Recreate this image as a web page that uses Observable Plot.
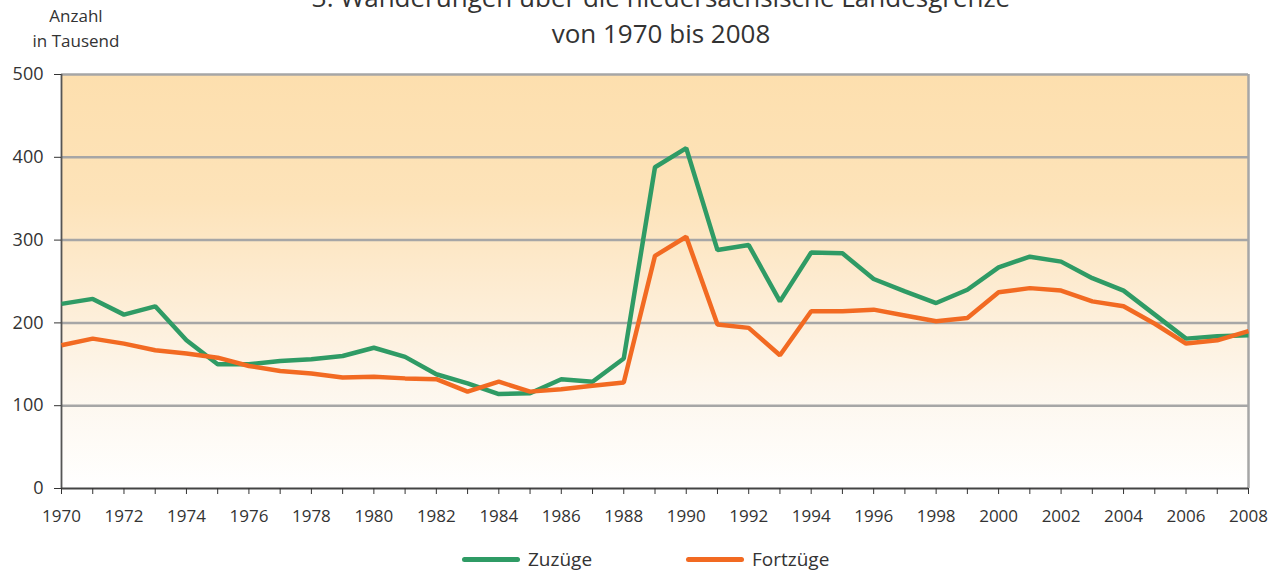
<!DOCTYPE html>
<html>
<head>
<meta charset="utf-8">
<script src="https://cdn.jsdelivr.net/npm/d3@7"></script>
<script src="https://cdn.jsdelivr.net/npm/@observablehq/plot@0.6"></script>
<style>
  html, body { margin: 0; padding: 0; background: #fff; }
  #wrap { position: relative; width: 1283px; height: 574px; overflow: hidden; font-family: "Open Sans", sans-serif; color: #333; }
  .t { position: absolute; white-space: nowrap; }
  #title { left: 0; width: 1322px; text-align: center; top: -21px; font-size: 26px; line-height: 36px; }
  #unit { left: 16px; width: 120px; text-align: center; top: 3px; font-size: 17px; line-height: 25px; }
  .leg { position: absolute; top: 545px; font-size: 19px; line-height: 28px; display: flex; align-items: center; }
  .leg span.sw { display: inline-block; width: 58px; height: 5px; border-radius: 3px; margin-right: 8px; }
  #chart { position: absolute; left: 0; top: 0; }
</style>
</head>
<body>
<div id="wrap">
  <div id="chart"></div>
  <div class="t" id="title">3. Wanderungen über die niedersächsische Landesgrenze<br>von 1970 bis 2008</div>
  <div class="t" id="unit">Anzahl<br>in Tausend</div>
  <div class="leg" style="left:462px"><span class="sw" style="background:#2f9b65"></span>Zuzüge</div>
  <div class="leg" style="left:686px"><span class="sw" style="background:#f26a22"></span>Fortzüge</div>
</div>
<script>
const years = d3.range(1970, 2009);
const zuzuege = [223, 229, 210, 220, 179, 150, 150, 154, 156, 160, 170, 159, 138, 127, 114, 115, 132, 129, 157, 388, 411, 288, 294, 226, 285, 284, 253, 238, 224, 240, 267, 280, 274, 254, 239, 210, 181, 184, 185];
const fortzuege = [173, 181, 175, 167, 163, 158, 148, 142, 139, 134, 135, 133, 132, 117, 129, 117, 120, 124, 128, 281, 304, 198, 194, 161, 214, 214, 216, 209, 202, 206, 237, 242, 239, 226, 220, 199, 175, 179, 190];
const seriesNames = ["Zuzüge", "Fortzüge"];
const seriesColors = ["#2f9b65", "#f26a22"];
const yTicks = [0, 100, 200, 300, 400, 500];
const xLabelYears = d3.range(1970, 2009, 2);

const rows = [];
years.forEach((yr, i) => {
  rows.push({year: yr, value: zuzuege[i], series: seriesNames[0]});
  rows.push({year: yr, value: fortzuege[i], series: seriesNames[1]});
});

const defs = () => {
  const d = d3.create("svg:defs");
  const g = d.append("linearGradient").attr("id", "bgGrad").attr("x1", 0).attr("y1", 0).attr("x2", 0).attr("y2", 1);
  [[0, "#fddfae"], [0.3, "#fde3b9"], [0.5, "#fdebd0"], [0.75, "#fdf6ec"], [1, "#ffffff"]]
    .forEach(([o, c]) => g.append("stop").attr("offset", o).attr("stop-color", c));
  return d.node();
};

const chart = Plot.plot({
  width: 1283,
  height: 574,
  marginLeft: 61,
  marginRight: 35,
  marginTop: 74,
  marginBottom: 86,
  style: {fontFamily: "Open Sans, sans-serif", fontSize: "17px", color: "#333", background: "transparent"},
  x: {domain: [1970, 2008]},
  y: {domain: [0, 500]},
  color: {domain: seriesNames, range: seriesColors},
  marks: [
    defs,
    Plot.frame({fill: "url(#bgGrad)", stroke: "none"}),
    Plot.ruleY(yTicks.filter(d => d > 0), {stroke: "#a6a6a6", strokeWidth: 2.5}),
    Plot.ruleX([2008], {stroke: "#a6a6a6", strokeWidth: 2.5}),
    Plot.ruleX([1970], {stroke: "#555", strokeWidth: 1.8}),
    Plot.ruleY([0], {stroke: "#444", strokeWidth: 1.8}),
    Plot.axisY({ticks: yTicks, tickSize: 7, tickPadding: 11, label: null, color: "#333", fontSize: 18}),
    Plot.axisX({ticks: years, tickSize: 6, tickPadding: 15, label: null, color: "#333", fontSize: 17,
      tickFormat: d => xLabelYears.includes(d) ? String(d) : ""}),
    Plot.line(rows, {x: "year", y: "value", z: "series", stroke: "series", strokeWidth: 4.5, strokeLinejoin: "miter", strokeLinecap: "butt"})
  ]
});
document.getElementById("chart").appendChild(chart);
</script>
</body>
</html>
